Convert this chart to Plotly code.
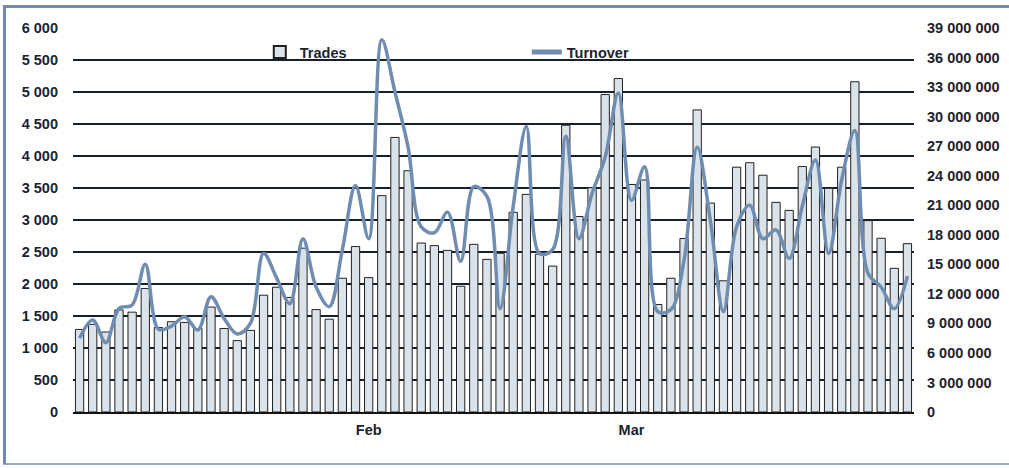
import plotly.graph_objects as go

# Trading-day index (Jan: 0-21, Feb: 22-41, Mar: 42-63)
day_index = list(range(64))
month_labels = ["Feb", "Mar"]
month_start_index = [22, 42]

trades = [
    1290, 1370, 1250, 1595, 1560, 1930, 1320, 1410, 1400, 1305,
    1640, 1305, 1115, 1275, 1825, 1950, 1790, 2560, 1600, 1450,
    2090, 2585, 2100, 3380, 4290, 3770, 2640, 2600, 2525, 1965,
    2620, 2385, 2480, 3120, 3400, 2465, 2280, 4480, 3055, 3505,
    4960, 5210, 3555, 3625, 1680, 2090, 2710, 4720, 3265, 2050,
    3825, 3895, 3700, 3275, 3150, 3835, 4140, 3495, 3825, 5160,
    2990, 2715, 2245, 2630,
]

turnover = [
    7480000, 9340000, 7040000, 10500000, 10870000, 15000000, 8400000, 8730000, 9680000, 8330000,
    11700000, 9500000, 7920000, 9000000, 16100000, 13600000, 11000000, 17600000, 12700000, 10700000,
    16500000, 23000000, 17600000, 37800000, 32500000, 26900000, 18800000, 18200000, 20300000, 15300000,
    22900000, 21900000, 10500000, 20900000, 29000000, 16100000, 16500000, 28000000, 17600000, 22200000,
    25900000, 32400000, 21500000, 24900000, 10200000, 10400000, 15400000, 26900000, 19500000, 10200000,
    18800000, 21000000, 17600000, 18500000, 15600000, 20900000, 25600000, 16100000, 23600000, 28600000,
    14100000, 12700000, 10500000, 13800000,
]

FONT = "Liberation Sans, Arial, sans-serif"
TXT = "#1b2330"
GRID = "#17202c"
LINEC = "#6f8db0"
FS = 14.5

fig = go.Figure()
fig.add_trace(go.Bar(
    x=day_index, y=trades, name="Trades",
    marker=dict(color="#dbe3ea", line=dict(color="#202020", width=1)),
    yaxis="y",
))
fig.add_trace(go.Scatter(
    x=day_index, y=turnover, name="Turnover", mode="lines",
    line=dict(color=LINEC, width=3.5, shape="spline", smoothing=1.0),
    yaxis="y2",
))

fig.update_layout(
    width=1009, height=468,
    margin=dict(l=73, r=95, t=28, b=56, autoexpand=False),
    paper_bgcolor="white", plot_bgcolor="white",
    separators=". ",
    bargap=0.37,
    font=dict(family=FONT, color=TXT, size=FS),
    showlegend=True,
    legend=dict(
        orientation="h", x=0.2221, y=0.937, xanchor="left", yanchor="middle",
        bgcolor="rgba(0,0,0,0)", entrywidth=222, entrywidthmode="pixels",
        font=dict(family=FONT, size=FS, color=TXT, weight="bold"),
        itemsizing="constant",
    ),
    xaxis=dict(
        range=[-0.5, 63.5],
        tickmode="array", tickvals=month_start_index, ticktext=month_labels,
        ticks="", showgrid=False, zeroline=False,
        showline=True, linecolor="#111111", linewidth=1.5,
        ticklabelstandoff=4,
        tickfont=dict(family=FONT, size=FS, color=TXT, weight="bold"),
    ),
    yaxis=dict(
        range=[0, 6000], dtick=500, tick0=0, tickformat=",d",
        showgrid=True, gridcolor=GRID, gridwidth=2,
        zeroline=False, showline=False, ticks="",
        ticklabelstandoff=14,
        tickfont=dict(family=FONT, size=FS, color=TXT, weight="bold"),
    ),
    yaxis2=dict(
        range=[0, 39000000], dtick=3000000, tick0=0, tickformat=",d",
        overlaying="y", side="right", showgrid=False, zeroline=False,
        showline=False, ticks="", ticklabelstandoff=12,
        tickfont=dict(family=FONT, size=FS, color=TXT, weight="bold"),
    ),
    shapes=[
        # outer frame (left, top, bottom)
        dict(type="line", xref="paper", yref="paper",
             x0=(4.5 - 73) / 841, x1=(4.5 - 73) / 841, y0=(412 - 5) / 384, y1=(412 - 464) / 384,
             line=dict(color=LINEC, width=3)),
        dict(type="line", xref="paper", yref="paper",
             x0=(3 - 73) / 841, x1=(1009 - 73) / 841, y0=(412 - 6.5) / 384, y1=(412 - 6.5) / 384,
             line=dict(color=LINEC, width=3)),
        dict(type="line", xref="paper", yref="paper",
             x0=(3 - 73) / 841, x1=(1009 - 73) / 841, y0=(412 - 464) / 384, y1=(412 - 464) / 384,
             line=dict(color=LINEC, width=1.5)),
    ],
)

fig.write_html(
    "out.html",
    config={"displayModeBar": False},
    post_script="document.body.style.margin='0';document.body.style.padding='0';",
)
